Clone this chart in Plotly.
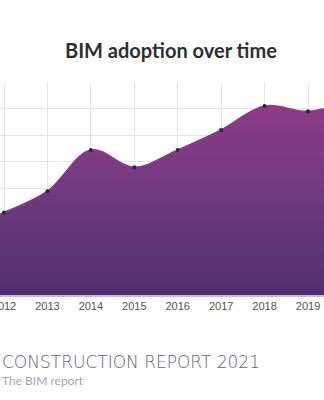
import plotly.graph_objects as go

years = [2011, 2012, 2013, 2014, 2015, 2016, 2017, 2018, 2019, 2020]
adoption = [25, 31, 39, 54.5, 48, 54.5, 62, 71, 69, 73]
tick_years = [2012, 2013, 2014, 2015, 2016, 2017, 2018, 2019]
tick_labels = [str(y) for y in tick_years]

title_text = "BIM adoption over time"
footer_title = "CONSTRUCTION REPORT 2021"
footer_sub = "The BIM report"

fig = go.Figure()
fig.add_trace(go.Scatter(
    x=years, y=adoption,
    mode="lines+markers",
    line=dict(shape="spline", smoothing=1.0, width=1.5, color="#8a3a86"),
    marker=dict(size=4, color="#2a2a30"),
    fill="tozeroy",
    fillgradient=dict(type="vertical", start=0, stop=75,
                      colorscale=[[0, "#502f6f"], [0.5, "#703a7e"], [1, "#8f3c86"]]),
    hoverinfo="skip",
))

fig.update_layout(
    width=324, height=400,
    margin=dict(l=0, r=0, t=82, b=105, autoexpand=False),
    paper_bgcolor="white", plot_bgcolor="white",
    showlegend=False,
    xaxis=dict(range=[2011.908, 2019.368], tickvals=tick_years, ticktext=tick_labels,
               showgrid=True, gridcolor="#e4e4e4", gridwidth=1, zeroline=False,
               showline=True, linecolor="#c8b8d8", linewidth=1.5,
               ticklabeloverflow="allow", automargin=False,
               ticks="", tickfont=dict(family="Liberation Sans, Arial", size=11, color="#555555")),
    yaxis=dict(range=[0, 80], dtick=10, showgrid=True, gridcolor="#e4e4e4", gridwidth=1,
               zeroline=False, showticklabels=False, ticks="", automargin=False),
    annotations=[
        dict(text="<b>" + title_text + "</b>", xref="paper", yref="paper",
             x=0.528, y=(295 - 50) / 213, xanchor="center", yanchor="middle", showarrow=False,
             font=dict(family="Lato, Open Sans", size=20, color="#2f2f33")),
        dict(text=footer_title, xref="paper", yref="paper",
             x=0.0, y=(295 - 362) / 213, xanchor="left", yanchor="middle", showarrow=False,
             font=dict(family="DejaVu Sans", size=17, color="#6b6175", weight=200)),
        dict(text=footer_sub, xref="paper", yref="paper",
             x=0.0, y=(295 - 380) / 213, xanchor="left", yanchor="middle", showarrow=False,
             font=dict(family="Lato, Open Sans", size=12, color="#a8a4ab")),
    ],
)

fig.write_html("out.html")
